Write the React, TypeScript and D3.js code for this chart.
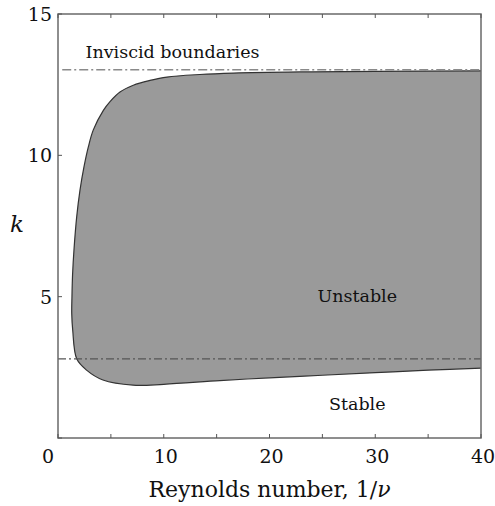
import React from 'react';
import * as d3 from 'd3';

// Neutral stability boundary (Reynolds number, k)
const boundaryRe = [40, 30, 22.9, 16.6, 13.4, 10.3, 8.7, 7.12, 5.86, 4.92, 4.29, 3.34, 2.87, 2.46, 2.08, 1.77, 1.51, 1.38, 1.32, 1.3, 1.39, 1.77, 2.7, 4.25, 7.1, 10, 15.3, 20, 25, 30, 35, 40];
const boundaryK = [12.99, 12.97, 12.95, 12.91, 12.86, 12.77, 12.65, 12.48, 12.24, 11.9, 11.59, 10.9, 10.3, 9.6, 8.77, 7.83, 6.65, 5.8, 5.0, 4.4, 3.82, 2.8, 2.4, 2.05, 1.87, 1.9, 2.03, 2.13, 2.22, 2.31, 2.4, 2.47];

// Inviscid boundaries
const inviscidUpper = 13.03;
const inviscidLower = 2.8;

const xTicks = [0, 10, 20, 30, 40];
const xMinorTicks = [5, 15, 25, 35];
const yTickLabels = [5, 10, 15];

const W = 495;
const H = 506;
const margin = { left: 58, right: 14, top: 14, bottom: 68 };
const font = "'DejaVu Serif', 'Liberation Serif', 'Times New Roman', serif";

const App: React.FC = () => {
  const x = d3.scaleLinear().domain([0, 40]).range([margin.left, W - margin.right]);
  const y = d3.scaleLinear().domain([0, 15]).range([H - margin.bottom, margin.top]);

  const pts: [number, number][] = boundaryRe.map((r, i) => [x(r), y(boundaryK[i])]);
  const line = d3.line().curve(d3.curveCatmullRom.alpha(0.5));
  const outline = line(pts) || '';
  const area = outline + 'Z';

  const x0 = x(0), x1 = x(40), yTop = y(15), yBot = y(0);
  const txt = { fontFamily: font, fill: '#111' } as React.CSSProperties;

  return (
    <div style={{ position: 'absolute', left: 0, top: 0 }}>
      <svg width={W} height={H} style={{ display: 'block', background: '#fff' }}>
        <path d={area} fill="#9a9a9a" stroke="none" />
        <path d={outline} fill="none" stroke="#333" strokeWidth={1.2} />

        {/* inviscid boundaries */}
        <line x1={x(0.4)} x2={x1} y1={y(inviscidUpper)} y2={y(inviscidUpper)}
          stroke="#8a8a8a" strokeWidth={1.5} strokeDasharray="9,3,2,3" />
        <line x1={x0} x2={x1} y1={y(inviscidLower)} y2={y(inviscidLower)}
          stroke="#555" strokeWidth={1.2} strokeDasharray="8,3,2,3" />

        {/* frame */}
        <rect x={x0} y={yTop} width={x1 - x0} height={yBot - yTop}
          fill="none" stroke="#6a6a6a" strokeWidth={1.5} />

        {/* ticks */}
        {[...xTicks, ...xMinorTicks].map(t => (
          <g key={'xt' + t}>
            <line x1={x(t)} x2={x(t)} y1={yBot} y2={yBot - 4} stroke="#555" />
            <line x1={x(t)} x2={x(t)} y1={yTop} y2={yTop + 4} stroke="#555" />
          </g>
        ))}
        {[0, 5, 10, 15].map(t => (
          <line key={'yt' + t} x1={x0} x2={x0 + 4} y1={y(t)} y2={y(t)} stroke="#555" />
        ))}

        {/* tick labels */}
        {xTicks.map(t => (
          <text key={'xl' + t} x={x(t) + (t === 0 ? -10 : 2)} y={yBot + 25} textAnchor="middle"
            style={{ ...txt, fontSize: 19 }}>{t}</text>
        ))}
        {yTickLabels.map(t => (
          <text key={'yl' + t} x={x0 - 6} y={y(t) + 7} textAnchor="end"
            style={{ ...txt, fontSize: 19 }}>{t}</text>
        ))}

        {/* annotations */}
        <text x={x(2.6)} y={y(13.45)} style={{ ...txt, fontSize: 17.5 }}>Inviscid boundaries</text>
        <text x={x(28.3)} y={y(4.8)} textAnchor="middle" style={{ ...txt, fontSize: 17.5 }}>Unstable</text>
        <text x={x(28.3)} y={y(1.0)} textAnchor="middle" style={{ ...txt, fontSize: 17.5 }}>Stable</text>

        {/* axis titles */}
        <text x={17} y={y(7.3)} textAnchor="middle" style={{ ...txt, fontSize: 23, fontStyle: 'italic' }}>k</text>
        <text x={(x0 + x1) / 2} y={497} textAnchor="middle" style={{ ...txt, fontSize: 22 }}>
          Reynolds number, 1/<tspan style={{ fontStyle: 'italic' }}>ν</tspan>
        </text>
      </svg>
    </div>
  );
};

export default App;
